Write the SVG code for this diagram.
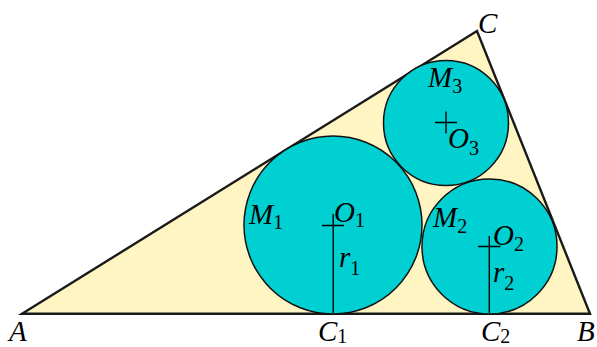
<svg xmlns="http://www.w3.org/2000/svg" width="597" height="347" viewBox="0 0 597 347">
<style>
.tri{fill:#FFF5C2;stroke:#1a1a1a;stroke-width:2.4;stroke-linejoin:miter}
.circ{fill:#00D0D2;stroke:#111;stroke-width:1.5}
.ln{stroke:#000;stroke-width:1.4;fill:none}
text{font-family:'Liberation Serif','Times New Roman',Times,serif;font-style:italic;font-size:29px;fill:#000}
.sub{font-style:normal;font-size:20px}
</style>
<rect width="597" height="347" fill="#fff"/>
<g id="triangle">
<polygon class="tri" points="22,313.8 590,313.8 477,31"/>
</g>
<g id="circle1">
<circle class="circ" cx="333" cy="225" r="89"/>
</g>
<g id="circle2">
<circle class="circ" cx="489.5" cy="246.5" r="67.5"/>
</g>
<g id="circle3">
<circle class="circ" cx="446" cy="123" r="62.5"/>
</g>
<g id="connectors">
<path class="ln" d="M322,225.5H344M333.2,214V313"/>
<path class="ln" d="M478,246.5H500.5M489.3,236V313"/>
<path class="ln" d="M435,122.5H457M446,111.5V133.5"/>
</g>
<g id="labels" font-family="Liberation Serif, serif" font-style="italic">
<text x="9" y="341">A</text>
<text x="577" y="341">B</text>
<text x="478" y="33">C</text>
<text x="318" y="341">C<tspan class="sub" dy="1.5">1</tspan></text>
<text x="481" y="341">C<tspan class="sub" dy="1.5">2</tspan></text>
<text x="249" y="224">M<tspan class="sub" dy="5">1</tspan></text>
<text x="433" y="226.5">M<tspan class="sub" dy="6">2</tspan></text>
<text x="428" y="87">M<tspan class="sub" dy="6">3</tspan></text>
<text x="334" y="222">O<tspan class="sub" dy="5">1</tspan></text>
<text x="493" y="245">O<tspan class="sub" dy="5.5">2</tspan></text>
<text x="448" y="148">O<tspan class="sub" dy="7">3</tspan></text>
<text x="339" y="267">r<tspan class="sub" dy="8">1</tspan></text>
<text x="493" y="281.5">r<tspan class="sub" dy="8">2</tspan></text>
</g>
</svg>
